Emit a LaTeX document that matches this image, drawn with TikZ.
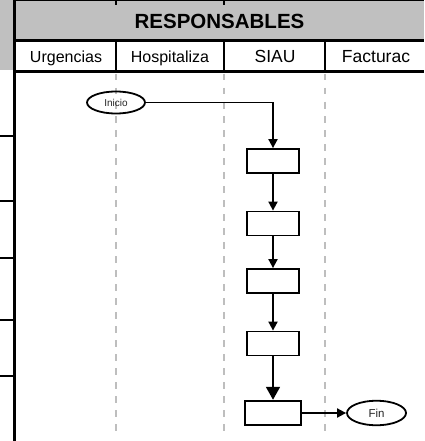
\documentclass[tikz,border=0pt]{standalone}
\usepackage{fontspec}
\setmainfont{Liberation Sans}
\usetikzlibrary{arrows.meta,shapes.geometric}
\definecolor{hgray}{RGB}{192,192,192}
\definecolor{lgray}{RGB}{190,190,190}
\begin{document}
\begin{tikzpicture}[x=1pt,y=-1pt,
 hdr/.style={font=\fontsize{16}{18}\selectfont, inner sep=0pt, anchor=base},
 hdrbig/.style={font=\fontsize{17.5}{19}\selectfont, inner sep=0pt, anchor=base},
 title/.style={font=\fontsize{20.5}{22}\selectfont\bfseries, inner sep=0pt},
 lane/.style={draw=lgray, line width=2pt, dash pattern=on 6.5pt off 7.5pt},
 frame/.style={line width=2.5pt},
 term/.style={draw, ellipse, line width=1.8pt, minimum width=58pt, minimum height=22pt, inner sep=0pt, text=black!85, font=\fontsize{10}{12}\selectfont},
 act/.style={draw, rectangle, line width=1.8pt, minimum width=52pt, minimum height=24pt, inner sep=0pt},
 flow/.style={line width=1.8pt, -{Triangle[length=9pt,width=9pt]}},
 bigflow/.style={line width=1.8pt, -{Triangle[length=13pt,width=14pt]}}]
\useasboundingbox (0,0) rectangle (424,441);
\fill[white] (0,0) rectangle (424,441);
% header backgrounds
\fill[hgray] (14,0) rectangle (424,40.7);
\fill[hgray] (0,0) rectangle (14.7,70);
% lanes
\draw[lane] (116,74) -- (116,437);
\draw[lane] (224,74) -- (224,437);
\draw[lane] (325,74) -- (325,437);
% header frame
\draw[line width=1.5pt] (14,0.75) -- (424,0.75);
\draw[line width=2pt] (116,0) -- (116,5);
\draw[line width=2pt] (224,0) -- (224,5);
\draw[frame] (14,40.7) -- (424,40.7);
\draw[frame] (14,71.5) -- (424,71.5);
\draw[frame] (14.7,0) -- (14.7,441);
\draw[frame] (116,40.7) -- (116,71.5);
\draw[frame] (224,40.7) -- (224,71.5);
\draw[frame] (325,40.7) -- (325,71.5);
% left ticks
\draw[frame] (0,136) -- (14.7,136);
\draw[frame] (0,201) -- (14.7,201);
\draw[frame] (0,258) -- (14.7,258);
\draw[frame] (0,320) -- (14.7,320);
\draw[frame] (0,376) -- (14.7,376);
% header texts
\node[title] (resp) at (219.5,21) {RESPONSABLES};
\node[hdr] (hu) at (66,62.8) {Urgencias};
\node[hdr] (hh) at (170,62.8) {Hospitaliza};
\node[hdrbig] (hs) at (275,62.8) {SIAU};
\node[hdrbig] (hf) at (376,62.8) {Facturac};
% flow nodes
\node[term] (inicio) at (116,102.5) {Inicio};
\node[act] (b1) at (273,161) {};
\node[act] (b2) at (273,223.5) {};
\node[act] (b3) at (273,281) {};
\node[act] (b4) at (273,343.5) {};
\node[act, minimum width=55.5pt, minimum height=24.7pt] (b5) at (273,413) {};
\node[term, minimum width=59pt, minimum height=24.5pt, font=\fontsize{11.5}{13}\selectfont] (fin) at (376.5,413) {Fin};
% connectors
\draw[flow] (inicio.east) -| (b1.north);
\draw[flow] (b1) -- (b2);
\draw[flow] (b2) -- (b3);
\draw[flow] (b3) -- (b4);
\draw[bigflow] (b4) -- (b5);
\draw[flow] (b5) -- (fin);
\end{tikzpicture}
\end{document}
